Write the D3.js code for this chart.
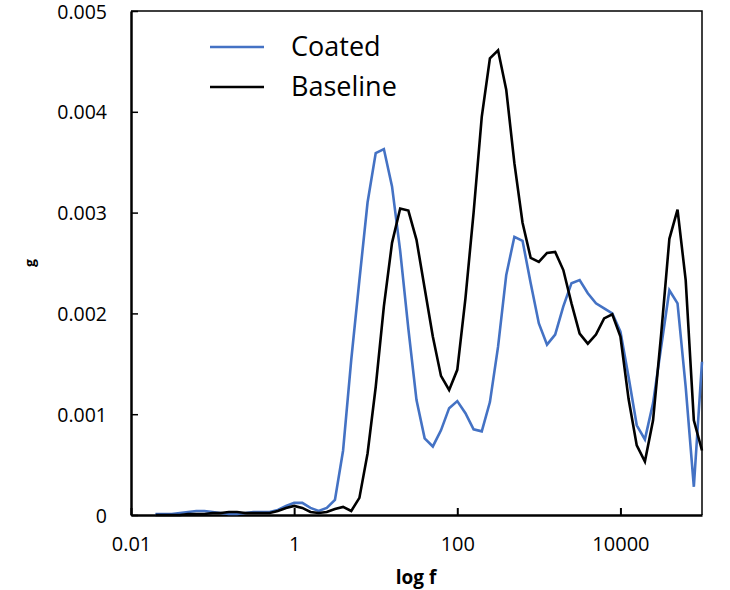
<!DOCTYPE html>
<html>
<head>
<meta charset="utf-8">
<script src="https://cdn.jsdelivr.net/npm/d3@7"></script>
<style>
  body { margin: 0; background: #fff; }
  svg { display: block; font-family: "Open Sans", "Liberation Sans", sans-serif; }
</style>
</head>
<body>
<svg width="730" height="590"></svg>
<script>
// log10 of frequency for every sample (0.1 decade apart)
const logF = [-1.7, -1.6, -1.5, -1.4, -1.3, -1.2, -1.1, -1.0, -0.9, -0.8,
  -0.7, -0.6, -0.5, -0.4, -0.3, -0.2, -0.1, 0.0, 0.1, 0.2,
  0.3, 0.4, 0.5, 0.6, 0.7, 0.8, 0.9, 1.0, 1.1, 1.2,
  1.3, 1.4, 1.5, 1.6, 1.7, 1.8, 1.9, 2.0, 2.1, 2.2,
  2.3, 2.4, 2.5, 2.6, 2.7, 2.8, 2.9, 3.0, 3.1, 3.2,
  3.3, 3.4, 3.5, 3.6, 3.7, 3.8, 3.9, 4.0, 4.1, 4.2,
  4.3, 4.4, 4.5, 4.6, 4.7, 4.8, 4.9, 5.0];

// g values, in units of 0.001
const coated = [0.01, 0.01, 0.01, 0.02, 0.03, 0.04, 0.04, 0.03, 0.02, 0.01,
  0.01, 0.02, 0.03, 0.03, 0.03, 0.05, 0.09, 0.12, 0.12, 0.07,
  0.04, 0.07, 0.15, 0.64, 1.54, 2.33, 3.10, 3.59, 3.63, 3.26,
  2.62, 1.85, 1.14, 0.76, 0.68, 0.84, 1.06, 1.13, 1.01, 0.85,
  0.83, 1.12, 1.67, 2.38, 2.76, 2.72, 2.30, 1.90, 1.69, 1.79,
  2.07, 2.30, 2.33, 2.20, 2.10, 2.05, 2.00, 1.82, 1.37, 0.89,
  0.75, 1.11, 1.67, 2.23, 2.10, 1.27, 0.28, 1.52];

const baseline = [0.00, 0.00, 0.00, 0.00, 0.01, 0.01, 0.01, 0.02, 0.02, 0.03,
  0.03, 0.02, 0.02, 0.02, 0.02, 0.04, 0.07, 0.09, 0.07, 0.03,
  0.02, 0.03, 0.06, 0.08, 0.04, 0.17, 0.61, 1.27, 2.07, 2.70,
  3.04, 3.02, 2.73, 2.25, 1.77, 1.38, 1.24, 1.44, 2.15, 3.00,
  3.95, 4.53, 4.61, 4.22, 3.49, 2.90, 2.55, 2.51, 2.60, 2.61,
  2.43, 2.10, 1.80, 1.70, 1.79, 1.95, 1.99, 1.77, 1.15, 0.69,
  0.53, 0.94, 1.80, 2.74, 3.03, 2.33, 0.94, 0.64];

const unit = 0.001;
const xTicks = [0.01, 1, 100, 10000];
const xTickLabels = ["0.01", "1", "100", "10000"];
const yTicks = [0, 0.001, 0.002, 0.003, 0.004, 0.005];
const yTickLabels = ["0", "0.001", "0.002", "0.003", "0.004", "0.005"];
const seriesNames = ["Coated", "Baseline"];
const seriesColors = ["#4472C4", "#000000"];

const svg = d3.select("svg");
const plotLeft = 131, plotRight = 702, plotTop = 11, plotBottom = 515;

const x = d3.scaleLog().domain([0.01, 100000]).range([plotLeft, plotRight]);
const y = d3.scaleLinear().domain([0, 0.005]).range([plotBottom, plotTop]);

// frame (top and right sides)
svg.append("path")
  .attr("d", `M${plotLeft},${plotTop}H${plotRight}V${plotBottom}`)
  .attr("fill", "none")
  .attr("stroke", "#000")
  .attr("stroke-width", 1.5);

// x axis
const xAxis = svg.append("g")
  .attr("transform", `translate(0,${plotBottom})`)
  .call(d3.axisBottom(x).tickValues(xTicks).tickSizeInner(-7).tickSizeOuter(0)
    .tickFormat((d, i) => xTickLabels[i]));
xAxis.select(".domain").attr("stroke-width", 2.5);
xAxis.selectAll(".tick line").attr("stroke-width", 2);
xAxis.selectAll(".tick text")
  .attr("y", 22)
  .attr("font-size", 20)
  .attr("font-family", "Open Sans")
  .attr("fill", "#000");

// y axis
const yAxis = svg.append("g")
  .attr("transform", `translate(${plotLeft},0)`)
  .call(d3.axisLeft(y).tickValues(yTicks).tickSizeInner(-7).tickSizeOuter(0)
    .tickFormat((d, i) => yTickLabels[i]));
yAxis.select(".domain").attr("stroke-width", 2.5);
yAxis.selectAll(".tick line").attr("stroke-width", 1.5);
yAxis.selectAll(".tick text")
  .attr("x", -24)
  .attr("dy", "0.36em")
  .attr("font-size", 19.5)
  .attr("font-family", "Open Sans")
  .attr("fill", "#000");

// lines
const pts = (vals) => vals.map((v, i) => [Math.pow(10, logF[i]), v * unit]);
const line = d3.line().x(d => x(d[0])).y(d => y(d[1]));

[coated, baseline].forEach((vals, i) => {
  svg.append("path")
    .datum(pts(vals))
    .attr("d", line)
    .attr("fill", "none")
    .attr("stroke", seriesColors[i])
    .attr("stroke-width", 2.6)
    .attr("stroke-linejoin", "miter");
});

// legend
const legend = svg.append("g");
seriesNames.forEach((name, i) => {
  const ly = 47 + i * 40;
  legend.append("line")
    .attr("x1", 210).attr("x2", 264)
    .attr("y1", ly).attr("y2", ly)
    .attr("stroke", seriesColors[i])
    .attr("stroke-width", 2.6);
  legend.append("text")
    .attr("x", 291).attr("y", ly + 9)
    .attr("font-size", 27)
    .text(name);
});

// axis titles
svg.append("text")
  .attr("x", 416).attr("y", 584)
  .attr("text-anchor", "middle")
  .attr("font-size", 19)
  .attr("font-weight", "bold")
  .text("log f");

svg.append("text")
  .attr("transform", "translate(35,263) rotate(-90)")
  .attr("text-anchor", "middle")
  .attr("font-size", 14)
  .attr("font-weight", "bold")
  .text("g");
</script>
</body>
</html>
